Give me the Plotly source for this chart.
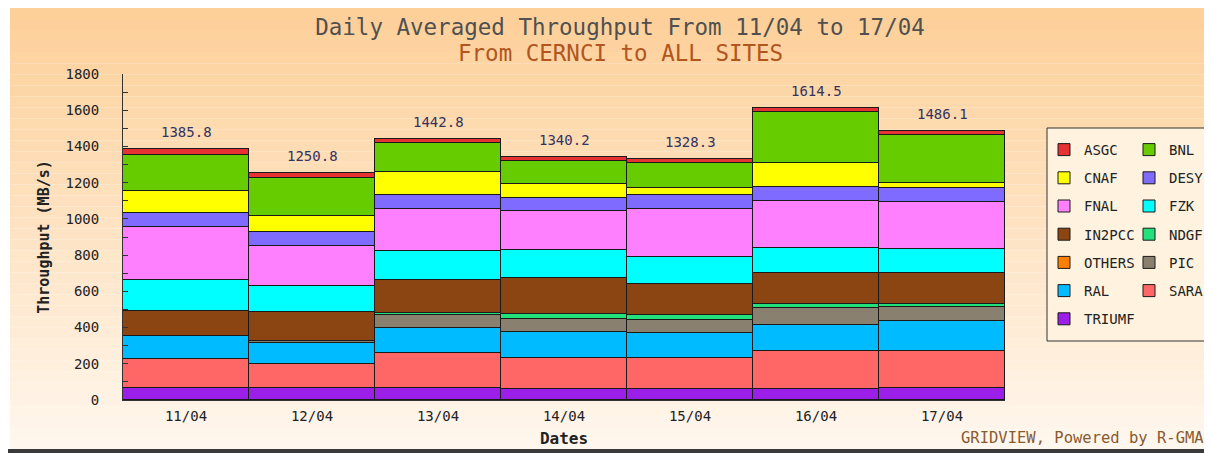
import plotly.graph_objects as go

# ---------------- data ----------------
dates = ["11/04", "12/04", "13/04", "14/04", "15/04", "16/04", "17/04"]

asgc   = [34, 25, 26, 22, 18, 25, 25]
bnl    = [197, 208, 160, 126, 138, 282, 262]
cnaf   = [125, 92, 125, 77, 40, 134, 28]
desy   = [77, 75, 77, 74, 75, 74, 77]
fnal   = [288, 223, 232, 215, 268, 258, 258]
fzk    = [175, 140, 160, 151, 150, 142, 134]
in2pcc = [134, 160, 184, 202, 170, 168, 170]
ndgf   = [0, 0, 12, 25, 25, 25, 18]
others = [0, 0, 0, 0, 0, 0, 0]
pic    = [3, 15, 68, 72, 76, 90, 76]
ral    = [125, 112, 142, 142, 135, 148, 166]
sara   = [162, 135.8, 191.8, 172.2, 172.3, 206.5, 207.1]
triumf = [65.8, 65, 65, 62, 61, 62, 65]

# stacking order bottom -> top: (name, values, colour, legend column, legend rank)
series = [
    ("TRIUMF", triumf, "#9B1FE8", "legend",  13),
    ("SARA",   sara,   "#FF6666", "legend2", 12),
    ("RAL",    ral,    "#00BBFF", "legend",  11),
    ("PIC",    pic,    "#8A8070", "legend2", 10),
    ("OTHERS", others, "#FF8000", "legend",  9),
    ("NDGF",   ndgf,   "#22E07A", "legend2", 8),
    ("IN2PCC", in2pcc, "#8B4513", "legend",  7),
    ("FZK",    fzk,    "#00FFFF", "legend2", 6),
    ("FNAL",   fnal,   "#FF80FF", "legend",  5),
    ("DESY",   desy,   "#7F6BFF", "legend2", 4),
    ("CNAF",   cnaf,   "#FFFF00", "legend",  3),
    ("BNL",    bnl,    "#66CC00", "legend2", 2),
    ("ASGC",   asgc,   "#E63232", "legend",  1),
]

# ---------------- layout geometry ----------------
OFF = 8                      # page body margin
W, H = 1204, 445             # figure size
ML, MT = 115, 66
PR, PB = 997, 392            # plot right / bottom (figure px)
MR, MB = W - PR, H - PB
PW, PH = PR - ML, PB - MT
FONT = "DejaVu Sans Mono"


def px(xs):
    """screenshot x pixel -> paper x"""
    return (xs - OFF - ML) / PW


def py(ys):
    """screenshot y pixel -> paper y"""
    return (PB - (ys - OFF)) / PH


fig = go.Figure()
for name, vals, col, lg, rank in series:
    fig.add_trace(go.Bar(
        x=dates, y=vals, name=name,
        marker=dict(color=col, line=dict(color="#1a1a1a", width=1)),
        legend=lg, legendgroup=name, legendrank=rank,
    ))

totals = [round(sum(s[1][i] for s in series), 1) for i in range(len(dates))]

annotations = []
for d, t in zip(dates, totals):
    annotations.append(dict(
        x=d, y=t, xref="x", yref="y", text=f"{t:.1f}", showarrow=False,
        yanchor="bottom", yshift=7,
        font=dict(family=FONT, size=14, color="#33335F"),
    ))

annotations.append(dict(
    x=px(620), y=py(53), xref="paper", yref="paper",
    text="From CERNCI to ALL SITES", showarrow=False,
    xanchor="center", yanchor="middle",
    font=dict(family=FONT, size=22.5, color="#B0561E"),
))

annotations.append(dict(
    x=px(1206), y=py(438), xref="paper", yref="paper",
    text="GRIDVIEW, Powered by R-GMA", showarrow=False,
    xanchor="right", yanchor="middle",
    font=dict(family=FONT, size=15.5, color="#8A5A30"),
))

# background gradient (vertical bands)
shapes = []
top_c = (253, 207, 152)
bot_c = (255, 247, 238)
y0s, y1s = 8, 449
nb = 40
for i in range(nb):
    a = y0s + (y1s - y0s) * i / nb
    b = y0s + (y1s - y0s) * (i + 1) / nb
    f = (i + 0.5) / nb
    c = tuple(round(top_c[k] + (bot_c[k] - top_c[k]) * f) for k in range(3))
    shapes.append(dict(
        type="rect", xref="paper", yref="paper",
        x0=px(10), x1=px(1212), y0=py(b), y1=py(a),
        fillcolor=f"rgb{c}", line=dict(width=0), layer="below",
    ))

# bottom dark border
shapes.append(dict(type="rect", xref="paper", yref="paper",
                   x0=px(8), x1=px(1212), y0=py(453), y1=py(449),
                   fillcolor="#3a3a3a", line=dict(width=0), layer="below"))

# legend box
shapes.append(dict(type="rect", xref="paper", yref="paper",
                   x0=px(1047), x1=px(1210), y0=py(341), y1=py(128),
                   fillcolor="#FFF2DF", line=dict(color="#333333", width=1),
                   layer="below"))

legend_common = dict(
    bgcolor="rgba(0,0,0,0)", borderwidth=0,
    font=dict(family=FONT, size=14, color="#222222"),
    traceorder="grouped", tracegroupgap=7,
    yanchor="top", xanchor="left", orientation="v",
    itemclick=False, itemdoubleclick=False,
)

fig.update_layout(
    width=W, height=H,
    margin=dict(l=ML, r=MR, t=MT, b=MB, autoexpand=False),
    paper_bgcolor="white",
    plot_bgcolor="rgba(0,0,0,0)",
    barmode="stack", bargap=0,
    title=dict(
        text="Daily Averaged Throughput From 11/04 to 17/04",
        x=(620 - OFF) / W, xref="container", xanchor="center",
        y=1 - (27 - OFF) / H, yref="container", yanchor="middle",
        font=dict(family=FONT, size=22.5, color="#505050"),
    ),
    xaxis=dict(
        range=[-0.5, 6.5], showline=True, linecolor="#333333", linewidth=1,
        ticks="", showgrid=False, zeroline=False, ticklabelstandoff=3,
        tickfont=dict(family=FONT, size=14, color="#222222"),
        title=dict(text="<b>Dates</b>", standoff=10,
                   font=dict(family=FONT, size=16, color="#222222")),
    ),
    yaxis=dict(
        range=[0, 1800], dtick=200, showline=True, linecolor="#333333",
        linewidth=1, ticks="inside", ticklen=5, tickcolor="#333333",
        showgrid=False, zeroline=False, ticklabelstandoff=20,
        minor=dict(dtick=100, ticks="inside", ticklen=5, tickcolor="#333333",
                   showgrid=False),
        tickfont=dict(family=FONT, size=14, color="#222222"),
        title=dict(text="<b>Throughput (MB/s)</b>", standoff=12,
                   font=dict(family=FONT, size=15, color="#222222")),
    ),
    legend=dict(x=px(1044), y=py(134), **legend_common),
    legend2=dict(x=px(1129), y=py(134), **legend_common),
    shapes=shapes,
    annotations=annotations,
)

fig.write_html("out.html")
